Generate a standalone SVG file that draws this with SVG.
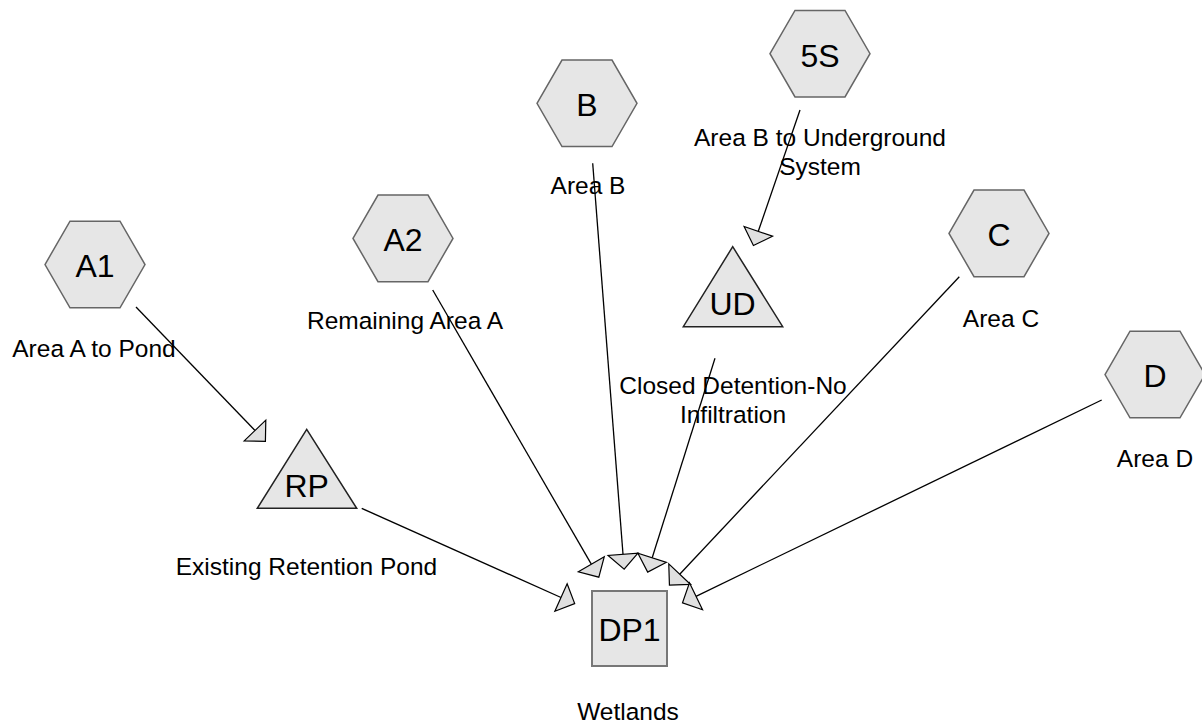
<svg xmlns="http://www.w3.org/2000/svg" width="1202" height="727" viewBox="0 0 1202 727">
<style>
.hex{fill:#e6e6e6;stroke:#666;stroke-width:1.5}
.tri{fill:#e6e6e6;stroke:#222;stroke-width:1.5}
.sq{fill:#e6e6e6;stroke:#777;stroke-width:2}
.nl{font-family:"Liberation Sans",Arial,sans-serif;font-size:32px;fill:#000;text-anchor:middle}
.lb{font-family:"Liberation Sans",Arial,sans-serif;font-size:24.5px;fill:#000;text-anchor:middle}
.edge{stroke:#000;stroke-width:1.3;fill:none;marker-end:url(#arr)}
</style>
<defs>
<marker id="arr" markerUnits="userSpaceOnUse" markerWidth="34" markerHeight="34" viewBox="-2 -17 19 34" refX="0" refY="0" orient="auto" overflow="visible">
<path d="M0,-15 L15,0 L0,15 Z" fill="#e0e0e0" stroke="#000" stroke-width="1.2" stroke-linejoin="miter"/>
</marker>
</defs>
<rect width="1202" height="727" fill="#fff"/>
<g id="connectors">
<line class="edge" x1="136" y1="307" x2="255" y2="430.5"/>
<line class="edge" x1="361.7" y1="508.3" x2="561" y2="597.5"/>
<line class="edge" x1="432.7" y1="290" x2="591.3" y2="564.2"/>
<line class="edge" x1="592.7" y1="163.3" x2="623" y2="554.3"/>
<line class="edge" x1="715" y1="358.3" x2="652.2" y2="557.8"/>
<line class="edge" x1="959.3" y1="276.7" x2="679.7" y2="574.2"/>
<line class="edge" x1="1101.7" y1="400" x2="696" y2="596.3"/>
<line class="edge" x1="800" y1="110" x2="758.3" y2="231.3"/>
</g>
<g id="A1">
<polygon class="hex" points="45,264.5 70,221.2 120,221.2 145,264.5 120,307.8 70,307.8"/>
<text class="nl" x="95" y="277">A1</text>
<text class="lb" x="94" y="356.5">Area A to Pond</text>
</g>
<g id="A2">
<polygon class="hex" points="353,238.4 378,195.1 428,195.1 453,238.4 428,281.7 378,281.7"/>
<text class="nl" x="403" y="251">A2</text>
<text class="lb" x="405" y="328.5">Remaining Area A</text>
</g>
<g id="B">
<polygon class="hex" points="537,103.3 562,60 612,60 637,103.3 612,146.6 562,146.6"/>
<text class="nl" x="587" y="116">B</text>
<text class="lb" x="588" y="193.5">Area B</text>
</g>
<g id="S5">
<polygon class="hex" points="770,53.7 795,10.4 845,10.4 870,53.7 845,97 795,97"/>
<text class="nl" x="820" y="66.5">5S</text>
<text class="lb" x="820" y="146">Area B to Underground</text>
<text class="lb" x="820" y="175">System</text>
</g>
<g id="C">
<polygon class="hex" points="949,233.4 974,190.1 1024,190.1 1049,233.4 1024,276.7 974,276.7"/>
<text class="nl" x="999" y="246">C</text>
<text class="lb" x="1001" y="327">Area C</text>
</g>
<g id="D">
<polygon class="hex" points="1105,374.5 1130,331.2 1180,331.2 1205,374.5 1180,417.8 1130,417.8"/>
<text class="nl" x="1155" y="387">D</text>
<text class="lb" x="1155" y="467">Area D</text>
</g>
<g id="RP">
<polygon class="tri" points="306.7,429.3 356.7,508.3 257.3,508.3"/>
<text class="nl" x="306.7" y="497">RP</text>
<text class="lb" x="306.5" y="575">Existing Retention Pond</text>
</g>
<g id="UD">
<polygon class="tri" points="732.7,246.7 782.7,326.7 683.3,326.7"/>
<text class="nl" x="732.5" y="315">UD</text>
<text class="lb" x="733" y="394">Closed Detention-No</text>
<text class="lb" x="733" y="423">Infiltration</text>
</g>
<g id="DP1">
<rect class="sq" x="592" y="591" width="75" height="75"/>
<text class="nl" x="629.5" y="641">DP1</text>
<text class="lb" x="628" y="720">Wetlands</text>
</g>
</svg>
